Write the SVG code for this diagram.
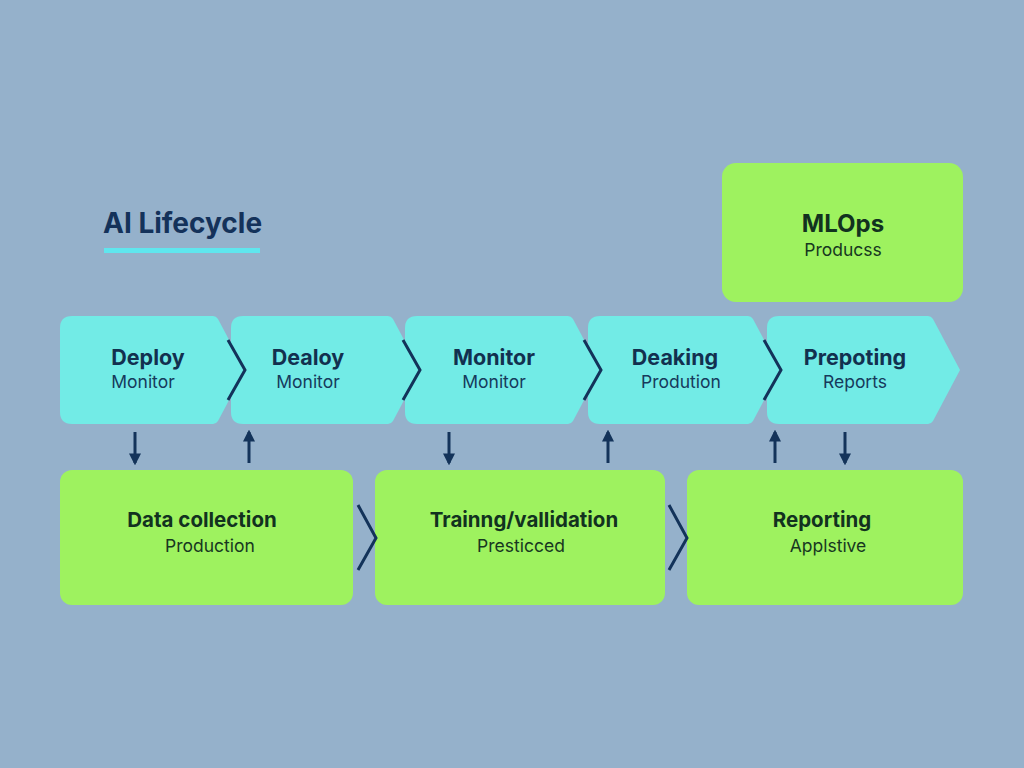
<svg xmlns="http://www.w3.org/2000/svg" width="1024" height="768" viewBox="0 0 1024 768">
<style>
.bg{fill:#95b1cb}
.cy{fill:#72ebe6}
.gr{fill:#9ef25f}
.t1{font-family:Inter,"Liberation Sans",sans-serif;font-weight:700;font-size:21.5px;fill:#12304f;text-anchor:middle}
.t2{font-family:Inter,"Liberation Sans",sans-serif;font-weight:400;font-size:17.5px;fill:#163a5c;text-anchor:middle}
.g1{font-family:Inter,"Liberation Sans",sans-serif;font-weight:700;font-size:20.5px;fill:#12321f;text-anchor:middle}
.g2{font-family:Inter,"Liberation Sans",sans-serif;font-weight:400;font-size:17.5px;fill:#17371f;text-anchor:middle}
.chev{fill:none;stroke:#13335a;stroke-width:3}
.arr{stroke:#13335a;stroke-width:3;marker-end:url(#ah)}
</style>
<defs>
<marker id="ah" viewBox="0 0 10 10" refX="8" refY="5" markerWidth="4" markerHeight="4" orient="auto"><path d="M0,0 L10,5 L0,10 z" fill="#13335a"/></marker>
</defs>
<rect class="bg" width="1024" height="768"/>
<g id="title">
<text x="103" y="233" style="font-family:Inter,'Liberation Sans',sans-serif;font-weight:700;font-size:28px;fill:#14325a">AI Lifecycle</text>
<rect x="104" y="248" width="156" height="5" fill="#5fe6ee"/>
</g>
<g id="mlops">
<rect class="gr" x="722" y="163" width="241" height="139" rx="14"/>
<text class="g1" x="843" y="232" style="font-size:24px">MLOps</text>
<text class="g2" x="843" y="256">Producss</text>
</g>
<g id="c1">
<path class="cy" d="M72,316 H213 Q216,316 218,319 L245,370 L218,421 Q216,424 213,424 H72 Q60,424 60,412 V328 Q60,316 72,316 Z"/>
<text class="t1" x="148" y="365">Deploy</text>
<text class="t2" x="143" y="388">Monitor</text>
</g>
<g id="c2">
<path class="cy" d="M243,316 H388 Q391,316 393,319 L420,370 L393,421 Q391,424 388,424 H243 Q231,424 231,412 V328 Q231,316 243,316 Z"/>
<text class="t1" x="308" y="365">Dealoy</text>
<text class="t2" x="308" y="388">Monitor</text>
</g>
<g id="c3">
<path class="cy" d="M417,316 H568 Q571,316 573,319 L600,370 L573,421 Q571,424 568,424 H417 Q405,424 405,412 V328 Q405,316 417,316 Z"/>
<text class="t1" x="494" y="365">Monitor</text>
<text class="t2" x="494" y="388">Monitor</text>
</g>
<g id="c4">
<path class="cy" d="M600,316 H748 Q751,316 753,319 L780,370 L753,421 Q751,424 748,424 H600 Q588,424 588,412 V328 Q588,316 600,316 Z"/>
<text class="t1" x="675" y="365">Deaking</text>
<text class="t2" x="681" y="388">Prodution</text>
</g>
<g id="c5">
<path class="cy" d="M779,316 H928 Q931,316 933,319 L960,370 L933,421 Q931,424 928,424 H779 Q767,424 767,412 V328 Q767,316 779,316 Z"/>
<text class="t1" x="855" y="365">Prepoting</text>
<text class="t2" x="855" y="388">Reports</text>
</g>
<g id="b1">
<rect class="gr" x="60" y="470" width="293" height="135" rx="12"/>
<text class="g1" x="202" y="527">Data collection</text>
<text class="g2" x="210" y="552">Production</text>
</g>
<g id="b2">
<rect class="gr" x="375" y="470" width="290" height="135" rx="12"/>
<text class="g1" x="524" y="527">Trainng/vallidation</text>
<text class="g2" x="521" y="552">Presticced</text>
</g>
<g id="b3">
<rect class="gr" x="687" y="470" width="276" height="135" rx="12"/>
<text class="g1" x="822" y="527">Reporting</text>
<text class="g2" x="828" y="552">Applstive</text>
</g>
<g id="connectors">
<polyline class="chev" points="228,340 245,370 228,400"/>
<polyline class="chev" points="403,340 420,370 403,400"/>
<polyline class="chev" points="584,340 601,370 584,400"/>
<polyline class="chev" points="764,340 781,370 764,400"/>
<polyline class="chev" points="358,505 376,538 358,570"/>
<polyline class="chev" points="669,505 687,538 669,570"/>
<line class="arr" x1="135" y1="432" x2="135" y2="463"/>
<line class="arr" x1="249" y1="463" x2="249" y2="432"/>
<line class="arr" x1="449" y1="432" x2="449" y2="463"/>
<line class="arr" x1="608" y1="463" x2="608" y2="432"/>
<line class="arr" x1="775" y1="463" x2="775" y2="432"/>
<line class="arr" x1="845" y1="432" x2="845" y2="463"/>
</g>
</svg>
